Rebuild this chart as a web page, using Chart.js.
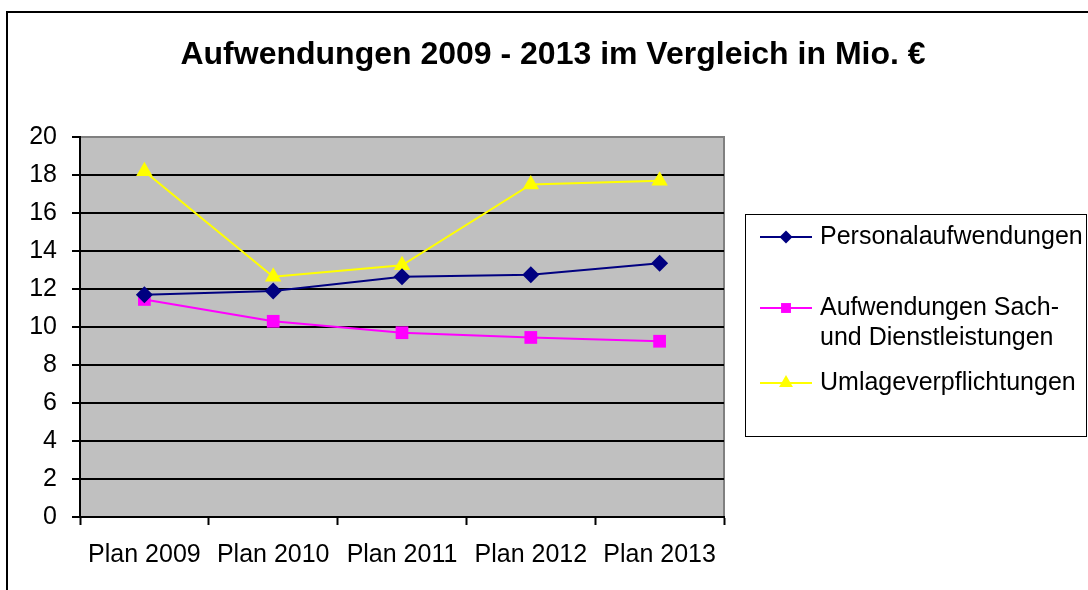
<!DOCTYPE html>
<html>
<head>
<meta charset="utf-8">
<script src="https://cdn.jsdelivr.net/npm/chart.js@4/dist/chart.umd.min.js"></script>
<style>
  html, body { margin: 0; padding: 0; background: #fff; }
  #wrap { width: 1088px; height: 590px; }
</style>
</head>
<body>
<div id="wrap"><canvas id="grafico" width="1088" height="590"></canvas></div>
<script>
// Daten (in Mio. €)
const kategorien = ["Plan 2009", "Plan 2010", "Plan 2011", "Plan 2012", "Plan 2013"];
const personal = [11.7, 11.9, 12.65, 12.75, 13.35];
const sachDienst = [11.45, 10.3, 9.7, 9.45, 9.25];
const umlage = [18.2, 12.65, 13.25, 17.5, 17.7];
const serienNamen = ["Personalaufwendungen", ["Aufwendungen Sach-", "und Dienstleistungen"], "Umlageverpflichtungen"];
const titel = "Aufwendungen 2009 - 2013 im Vergleich in Mio. €";

const schrift = "'Liberation Sans', Arial, sans-serif";

// Hintergrund, grauer Plotbereich und äußerer Rahmen
const hintergrund = {
  id: "hintergrund",
  beforeDraw(chart) {
    const ctx = chart.ctx;
    const a = chart.chartArea;
    ctx.save();
    ctx.fillStyle = "#fff";
    ctx.fillRect(0, 0, chart.width, chart.height);
    ctx.fillStyle = "#C0C0C0";
    ctx.fillRect(a.left, a.top, a.right - a.left, a.bottom - a.top);
    ctx.strokeStyle = "#808080";
    ctx.lineWidth = 2;
    ctx.beginPath();
    ctx.moveTo(a.left, a.top);
    ctx.lineTo(a.right, a.top);
    ctx.lineTo(a.right, a.bottom);
    ctx.stroke();
    // Rahmen um das ganze Diagramm
    ctx.strokeStyle = "#000";
    ctx.lineWidth = 2;
    ctx.beginPath();
    ctx.moveTo(7, chart.height + 5);
    ctx.lineTo(7, 12);
    ctx.lineTo(chart.width + 5, 12);
    ctx.stroke();
    // Titel
    ctx.fillStyle = "#000";
    ctx.font = "bold 32px " + schrift;
    ctx.textAlign = "center";
    ctx.textBaseline = "middle";
    ctx.fillText(titel, 553, 55);
    ctx.restore();
  }
};

// Legende mit Rahmen rechts
const legende = {
  id: "legende",
  afterDraw(chart) {
    const ctx = chart.ctx;
    const zeilenY = [237, 308, 383];
    const radien = [6.5, 7, 8];
    ctx.save();
    ctx.strokeStyle = "#000";
    ctx.lineWidth = 1;
    ctx.strokeRect(745.5, 214.5, 341, 222);
    chart.data.datasets.forEach(function (ds, i) {
      const y = zeilenY[i];
      ctx.strokeStyle = ds.borderColor;
      ctx.lineWidth = 2;
      ctx.beginPath();
      ctx.moveTo(760, y);
      ctx.lineTo(812, y);
      ctx.stroke();
      ctx.fillStyle = ds.backgroundColor;
      Chart.helpers.drawPoint(ctx, { pointStyle: ds.pointStyle, radius: radien[i], borderWidth: 0 }, 786, y);
      ctx.fillStyle = "#000";
      ctx.font = "25px " + schrift;
      ctx.textAlign = "left";
      ctx.textBaseline = "middle";
      const text = serienNamen[i];
      if (Array.isArray(text)) {
        text.forEach(function (zeile, j) { ctx.fillText(zeile, 820, y + j * 30); });
      } else {
        ctx.fillText(text, 820, y);
      }
    });
    ctx.restore();
  }
};

const datos = {
  labels: kategorien,
  datasets: [
    {
      label: "Personalaufwendungen",
      data: personal,
      borderColor: "#000080",
      backgroundColor: "#000080",
      pointStyle: "rectRot",
      pointRadius: 8.5,
      pointBorderWidth: 0,
      borderWidth: 2
    },
    {
      label: "Aufwendungen Sach- und Dienstleistungen",
      data: sachDienst,
      borderColor: "#FF00FF",
      backgroundColor: "#FF00FF",
      pointStyle: "rect",
      pointRadius: 9,
      pointBorderWidth: 0,
      borderWidth: 2
    },
    {
      label: "Umlageverpflichtungen",
      data: umlage,
      borderColor: "#FFFF00",
      backgroundColor: "#FFFF00",
      pointStyle: "triangle",
      pointRadius: 9.5,
      pointBorderWidth: 0,
      borderWidth: 2
    }
  ]
};

const config = {
  type: "line",
  data: datos,
  plugins: [hintergrund, legende],
  options: {
    responsive: false,
    animation: false,
    layout: { padding: { left: 7, right: 364, top: 137, bottom: 0 } },
    elements: {
      line: { tension: 0, fill: false }
    },
    plugins: {
      legend: { display: false },
      title: { display: false },
      tooltip: { enabled: false }
    },
    scales: {
      x: {
        offset: true,
        afterFit(scale) { scale.height = 73; },
        grid: {
          offset: true,
          drawOnChartArea: false,
          drawTicks: true,
          tickLength: 8,
          tickColor: "#000",
          tickWidth: 2
        },
        border: { color: "#000", width: 2 },
        ticks: {
          color: "#000",
          padding: 15,
          maxRotation: 0,
          autoSkip: false,
          font: { family: schrift, size: 25 }
        }
      },
      y: {
        min: 0,
        max: 20,
        afterFit(scale) { scale.width = 73; },
        grid: {
          color: function (c) { return c.tick && c.tick.value === 20 ? "#808080" : "#000"; },
          lineWidth: 2,
          drawTicks: true,
          tickLength: 8,
          tickColor: "#000",
          tickWidth: 2
        },
        border: { color: "#000", width: 2 },
        ticks: {
          stepSize: 2,
          color: "#000",
          padding: 15,
          font: { family: schrift, size: 25 }
        }
      }
    }
  }
};

const ctx = document.getElementById("grafico").getContext("2d");
new Chart(ctx, config);
</script>
</body>
</html>
